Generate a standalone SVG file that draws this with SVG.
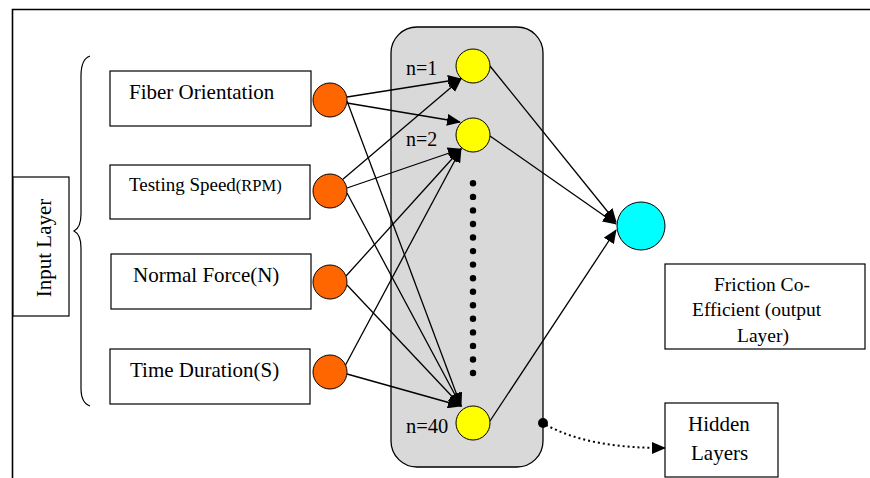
<svg xmlns="http://www.w3.org/2000/svg" width="870" height="478" viewBox="0 0 870 478">
<style>
  text { font-family: "Liberation Serif", "Times New Roman", serif; fill: #000; }
  .box { fill: #fff; stroke: #000; stroke-width: 1.2; }
  .in { fill: #FF6600; stroke: #000; stroke-width: 1; }
  .hid { fill: #FFFF00; stroke: #000; stroke-width: 1; }
  .out { fill: #00FFFF; stroke: #000; stroke-width: 1; }
  .edge { fill: none; stroke: #000; stroke-width: 1.3; marker-end: url(#arr); }
  .dot { fill: #000; }
</style>
<defs>
  <marker id="arr" markerUnits="userSpaceOnUse" markerWidth="14" markerHeight="12" viewBox="0 0 14 12" refX="13" refY="6" orient="auto">
    <path d="M0,0 L14,6 L0,12 Z" fill="#000"/>
  </marker>
</defs>
<rect width="870" height="478" fill="#fff"/>
<path d="M12.5,478 V9.5 H870" fill="none" stroke="#000" stroke-width="1.6"/>

<g id="input-layer">
  <rect class="box" x="13" y="177" width="56" height="139"/>
  <text transform="translate(51,248) rotate(-90)" text-anchor="middle" font-size="21">Input Layer</text>
</g>
<g id="brace">
  <path d="M90,56 C84,58 81,64 81,76 V214 C81,224 78,229 74,231 C78,233 81,238 81,248 V388 C81,398 84,404 90,406" fill="none" stroke="#000" stroke-width="1.2"/>
</g>

<g id="hidden-panel">
  <rect x="391" y="27" width="152" height="440" rx="26" fill="#D9D9D9" stroke="#000" stroke-width="1.3"/>
</g>

<g id="box-fiber">
  <rect class="box" x="110" y="71" width="201" height="55"/>
  <text x="129" y="99" font-size="21">Fiber Orientation</text>
</g>
<g id="box-speed">
  <rect class="box" x="110" y="165" width="200" height="54"/>
  <text x="129" y="191" font-size="19">Testing Speed<tspan font-size="16.5">(RPM)</tspan></text>
</g>
<g id="box-force">
  <rect class="box" x="111" y="254" width="200" height="55"/>
  <text x="133" y="282" font-size="21">Normal Force(N)</text>
</g>
<g id="box-time">
  <rect class="box" x="110" y="349" width="200" height="55"/>
  <text x="130" y="377" font-size="21">Time Duration(S)</text>
</g>

<g id="connectors">
  <line class="edge" x1="347" y1="97" x2="461" y2="79"/>
  <line class="edge" x1="347" y1="103" x2="460" y2="122"/>
  <line class="edge" x1="347" y1="101" x2="461" y2="406"/>
  <line class="edge" x1="342" y1="180" x2="461" y2="79"/>
  <line class="edge" x1="347" y1="188" x2="461" y2="149"/>
  <line class="edge" x1="347" y1="193" x2="461" y2="406"/>
  <line class="edge" x1="346" y1="276" x2="461" y2="149"/>
  <line class="edge" x1="347" y1="285" x2="461" y2="406"/>
  <line class="edge" x1="345" y1="366" x2="461" y2="149"/>
  <line class="edge" x1="347" y1="374" x2="461" y2="406"/>
  <line class="edge" x1="490" y1="66" x2="616" y2="222"/>
  <line class="edge" x1="490" y1="136" x2="616" y2="224"/>
  <line class="edge" x1="490" y1="421" x2="616" y2="230"/>
  <circle cx="543" cy="423" r="5" fill="#000"/>
  <path d="M546,425 C580,443 620,448 665,448" fill="none" stroke="#000" stroke-width="2" stroke-dasharray="2 3" marker-end="url(#arr)"/>
</g>

<g id="in-1"><circle class="in" cx="330" cy="100" r="17"/></g>
<g id="in-2"><circle class="in" cx="330" cy="191" r="17"/></g>
<g id="in-3"><circle class="in" cx="330" cy="282" r="17"/></g>
<g id="in-4"><circle class="in" cx="330" cy="372" r="17"/></g>

<g id="hid-1">
  <circle class="hid" cx="473" cy="66" r="17"/>
  <text x="406" y="75" font-size="20">n=1</text>
</g>
<g id="hid-2">
  <circle class="hid" cx="473" cy="135" r="17"/>
  <text x="406" y="146" font-size="20">n=2</text>
</g>
<g id="hid-40">
  <circle class="hid" cx="473" cy="423" r="17"/>
  <text x="406" y="433" font-size="20.5">n=40</text>
</g>
<g id="ellipsis">
  <circle class="dot" cx="473" cy="183.3" r="3.2"/>
  <circle class="dot" cx="473" cy="196.9" r="3.2"/>
  <circle class="dot" cx="473" cy="210.4" r="3.2"/>
  <circle class="dot" cx="473" cy="224" r="3.2"/>
  <circle class="dot" cx="473" cy="237.5" r="3.2"/>
  <circle class="dot" cx="473" cy="251.1" r="3.2"/>
  <circle class="dot" cx="473" cy="264.6" r="3.2"/>
  <circle class="dot" cx="473" cy="278.2" r="3.2"/>
  <circle class="dot" cx="473" cy="291.7" r="3.2"/>
  <circle class="dot" cx="473" cy="305.3" r="3.2"/>
  <circle class="dot" cx="473" cy="318.8" r="3.2"/>
  <circle class="dot" cx="473" cy="332.4" r="3.2"/>
  <circle class="dot" cx="473" cy="345.9" r="3.2"/>
  <circle class="dot" cx="473" cy="359.5" r="3.2"/>
  <circle class="dot" cx="473" cy="373" r="3.2"/>
</g>

<g id="out"><circle class="out" cx="641" cy="226" r="24"/></g>

<g id="box-friction">
  <rect class="box" x="665" y="264" width="200" height="85"/>
  <text font-size="19.5"><tspan x="714" y="291">Friction Co-</tspan><tspan x="692" y="316">Efficient (output</tspan><tspan x="737" y="342">Layer)</tspan></text>
</g>
<g id="box-hidden">
  <rect class="box" x="665" y="403" width="113" height="74"/>
  <text font-size="21"><tspan x="688" y="431">Hidden</tspan><tspan x="691" y="460">Layers</tspan></text>
</g>
</svg>
